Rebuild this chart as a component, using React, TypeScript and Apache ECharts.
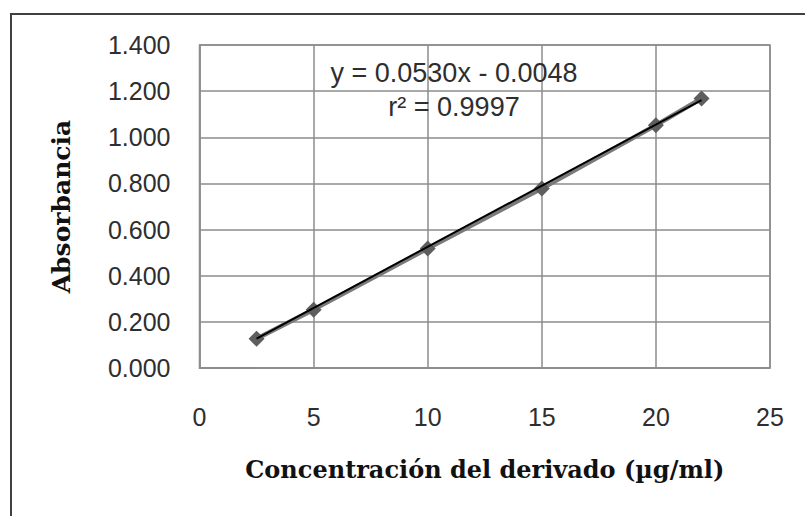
import React, { useEffect, useRef } from "react";
import * as echarts from "echarts";

const concentrations = [2.5, 5, 10, 15, 20, 22];
const absorbances = [0.127, 0.253, 0.518, 0.778, 1.052, 1.168];
const slope = 0.053;
const intercept = -0.0048;
const equationLines = ["y = 0.0530x - 0.0048", "r² = 0.9997"];
const xTitle = "Concentración del derivado (µg/ml)";
const yTitle = "Absorbancia";

export default function App() {
  const ref = useRef<HTMLDivElement>(null);
  useEffect(() => {
    if (!ref.current) return;
    const chart = echarts.init(ref.current, null, { renderer: "svg" });
    const xs = [concentrations[0], concentrations[concentrations.length - 1]];
    const trend = xs.map((x) => [x, slope * x + intercept]);
    const tickFont = {
      fontFamily: "Liberation Sans, Arial, sans-serif",
      fontSize: 25,
      color: "#2e2e2e",
    };
    chart.setOption({
      animation: false,
      backgroundColor: "#ffffff",
      grid: {
        left: 199.5,
        top: 45,
        right: 35,
        bottom: 148,
        show: true,
        borderColor: "#8c8c8c",
        borderWidth: 1.5,
        containLabel: false,
      },
      graphic: [
        {
          type: "rect",
          shape: { x: 11, y: 14, width: 830, height: 540 },
          style: { fill: "none", stroke: "#404040", lineWidth: 2 },
          silent: true,
        },
        {
          type: "text",
          x: 454,
          y: 73,
          style: {
            text: equationLines[0],
            fill: "#2e2e2e",
            font: "27px Liberation Sans, Arial, sans-serif",
            align: "center",
            verticalAlign: "middle",
          },
          z: 10,
        },
        {
          type: "text",
          x: 454,
          y: 107,
          style: {
            text: equationLines[1],
            fill: "#2e2e2e",
            font: "27px Liberation Sans, Arial, sans-serif",
            align: "center",
            verticalAlign: "middle",
          },
          z: 10,
        },
      ],
      xAxis: {
        type: "value",
        min: 0,
        max: 25,
        interval: 5,
        name: xTitle,
        nameLocation: "middle",
        nameGap: 89,
        nameTextStyle: {
          fontFamily: "DejaVu Serif, serif",
          fontWeight: "bold",
          fontSize: 24,
          color: "#111",
        },
        axisLine: { show: true, lineStyle: { color: "#8c8c8c", width: 1.5 } },
        axisTick: { show: false },
        axisLabel: { ...tickFont, margin: 36 },
        splitLine: { show: true, lineStyle: { color: "#8c8c8c", width: 1.5 } },
      },
      yAxis: {
        type: "value",
        min: 0,
        max: 1.4,
        interval: 0.2,
        name: yTitle,
        nameLocation: "middle",
        nameGap: 126,
        nameRotate: 90,
        nameTextStyle: {
          fontFamily: "DejaVu Serif, serif",
          fontWeight: "bold",
          fontSize: 25,
          color: "#111",
        },
        axisLine: { show: true, lineStyle: { color: "#8c8c8c", width: 1.5 } },
        axisTick: { show: false },
        axisLabel: {
          ...tickFont,
          margin: 29,
          formatter: (v: number) => v.toFixed(3),
        },
        splitLine: { show: true, lineStyle: { color: "#8c8c8c", width: 1.5 } },
      },
      series: [
        {
          type: "line",
          data: concentrations.map((x, i) => [x, absorbances[i]]),
          symbol: "diamond",
          symbolSize: 16,
          itemStyle: { color: "#5e5e5e" },
          lineStyle: { color: "#7a7a7a", width: 4.5 },
          z: 2,
        },
        {
          type: "line",
          data: trend,
          symbol: "none",
          lineStyle: { color: "#000000", width: 2 },
          z: 3,
        },
      ],
    });
    return () => chart.dispose();
  }, []);
  return (
    <div
      ref={ref}
      style={{ position: "fixed", left: 0, top: 0, width: 805, height: 516 }}
    />
  );
}
